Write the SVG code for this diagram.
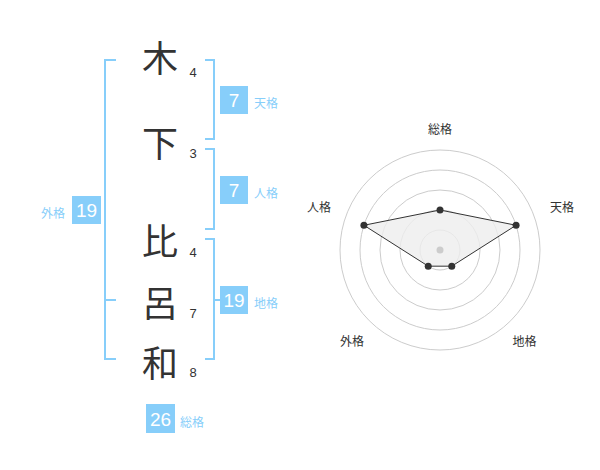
<svg xmlns="http://www.w3.org/2000/svg" width="600" height="470" viewBox="0 0 600 470">
<style>
.ch{font-family:"Noto Sans CJK JP","Noto Sans CJK SC",sans-serif;font-size:36px;fill:#333;text-anchor:middle}
.st{font-family:"Liberation Sans",Arial,sans-serif;font-size:13px;fill:#333;text-anchor:middle}
.br{fill:none;stroke:#87CEFA;stroke-width:2}
.box{fill:#87CEFA}
.bn{font-family:"Liberation Sans",Arial,sans-serif;font-size:19px;fill:#fff;text-anchor:middle}
.lb{font-family:"Noto Sans CJK JP","Noto Sans CJK SC",sans-serif;font-size:12px;fill:#87CEFA}
.rl{font-family:"Noto Sans CJK JP","Noto Sans CJK SC",sans-serif;font-size:12px;fill:#333;text-anchor:middle}
.ring{fill:none;stroke:#ccc;stroke-width:1}
.pt{fill:#333}
</style>
<rect width="600" height="470" fill="#fff"/>
<g id="characters">
<text class="ch" x="160" y="72">木</text>
<text class="st" x="193" y="77">4</text>
<text class="ch" x="160" y="157">下</text>
<text class="st" x="193" y="158">3</text>
<text class="ch" x="160" y="255">比</text>
<text class="st" x="193" y="257">4</text>
<text class="ch" x="160" y="317">呂</text>
<text class="st" x="193" y="318">7</text>
<text class="ch" x="160" y="377">和</text>
<text class="st" x="193" y="377">8</text>
</g>
<g id="connectors">
<path class="br" d="M116,60 H105 V359 H116 M105,300 H116"/>
<path class="br" d="M205,60 H214 V139 H205"/>
<path class="br" d="M205,149 H214 V229 H205"/>
<path class="br" d="M205,239 H214 V359 H205 M214,300 H221"/>
</g>
<g id="tenkaku">
<rect class="box" x="220" y="86" width="28" height="28"/>
<text class="bn" x="234" y="107">7</text>
<text class="lb" x="254" y="108">天格</text>
</g>
<g id="jinkaku">
<rect class="box" x="220" y="176" width="28" height="28"/>
<text class="bn" x="234" y="197">7</text>
<text class="lb" x="254" y="198">人格</text>
</g>
<g id="chikaku">
<rect class="box" x="220" y="286" width="28" height="28"/>
<text class="bn" x="234" y="307">19</text>
<text class="lb" x="254" y="308">地格</text>
</g>
<g id="gaikaku">
<rect class="box" x="72" y="196" width="29" height="28"/>
<text class="bn" x="86.5" y="217">19</text>
<text class="lb" x="41" y="218">外格</text>
</g>
<g id="soukaku">
<rect class="box" x="146" y="404" width="29" height="29"/>
<text class="bn" x="160.5" y="425.5">26</text>
<text class="lb" x="180" y="427">総格</text>
</g>
<g id="radar">
<circle class="ring" cx="440" cy="250" r="20"/>
<circle class="ring" cx="440" cy="250" r="40"/>
<circle class="ring" cx="440" cy="250" r="60"/>
<circle class="ring" cx="440" cy="250" r="80"/>
<circle class="ring" cx="440" cy="250" r="100"/>
<polygon points="440,210 516.08,225.28 451.76,266.18 428.24,266.18 363.92,225.28" fill="#eee" fill-opacity="0.8" stroke="#333" stroke-width="1"/>
<circle cx="440" cy="250" r="3.5" fill="#ccc"/>
<circle class="pt" cx="440" cy="210" r="3.5"/>
<circle class="pt" cx="516.08" cy="225.28" r="3.5"/>
<circle class="pt" cx="451.76" cy="266.18" r="3.5"/>
<circle class="pt" cx="428.24" cy="266.18" r="3.5"/>
<circle class="pt" cx="363.92" cy="225.28" r="3.5"/>
<text class="rl" x="440" y="134">総格</text>
<text class="rl" x="562" y="212">天格</text>
<text class="rl" x="524.5" y="346">地格</text>
<text class="rl" x="352" y="346">外格</text>
<text class="rl" x="319" y="212">人格</text>
</g>
</svg>
